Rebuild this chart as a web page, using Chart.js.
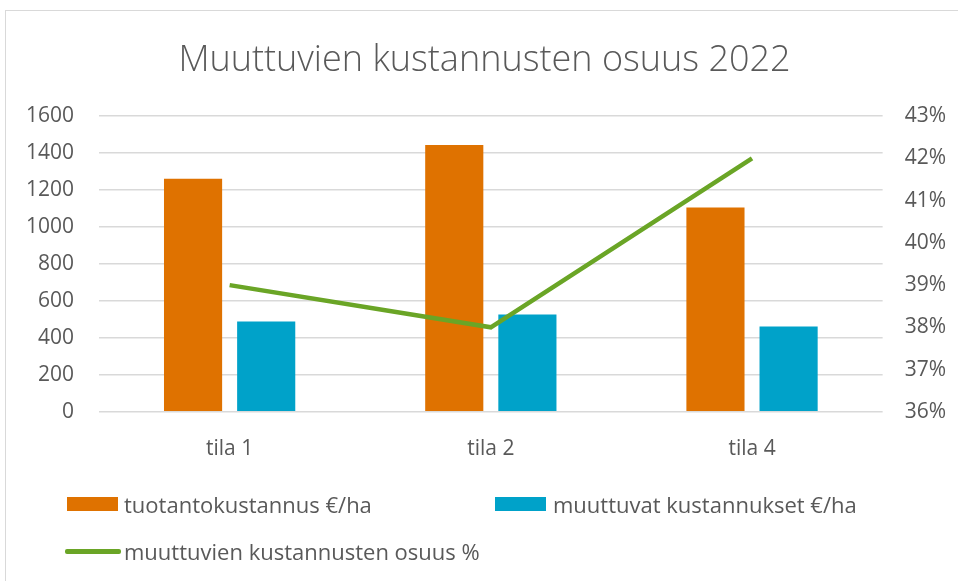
<!DOCTYPE html>
<html lang="fi">
<head>
<meta charset="UTF-8">
<script src="https://cdn.jsdelivr.net/npm/chart.js"></script>
<title>Muuttuvien kustannusten osuus 2022</title>
<style>
    html, body { margin: 0; padding: 0; background: #fff; }
    #wrap { position: relative; width: 958px; height: 581px; overflow: hidden; font-family: "Open Sans", "Noto Sans", sans-serif; }
    #frame { position: absolute; left: 5px; top: 10px; width: 960px; height: 600px; border: 1px solid #d9d9d9; box-sizing: border-box; }
    #chart { position: absolute; left: 0; top: 0; }
    .leg { position: absolute; font-size: 22px; color: #595959; line-height: 28px; white-space: nowrap; }
    .leg i { position: absolute; }
</style>
</head>
<body>
<div id="wrap">
    <div id="frame"></div>
    <canvas id="chart" width="958" height="581"></canvas>
    <div id="legend"></div>
</div>
<script>
    const categories = ['tila 1', 'tila 2', 'tila 4'];
    const productionCost = [1262, 1444, 1106];
    const variableCost = [489, 526, 462];
    const variableShare = [39, 38, 42];
    const leftTicks = [0, 200, 400, 600, 800, 1000, 1200, 1400, 1600];
    const rightTicks = [36, 37, 38, 39, 40, 41, 42, 43];

    const seriesNames = ['tuotantokustannus €/ha', 'muuttuvat kustannukset €/ha', 'muuttuvien kustannusten osuus %'];
    const colors = ['#df7200', '#00a2c9', '#6aa526'];
    const textColor = '#595959';
    const gridColor = '#d9d9d9';
    const tickFont = { family: '"Open Sans", sans-serif', size: 21 };

    const ctx = document.getElementById('chart').getContext('2d');
    new Chart(ctx, {
        data: {
            labels: categories,
            datasets: [
                {
                    type: 'line',
                    label: seriesNames[2],
                    data: variableShare,
                    yAxisID: 'y2',
                    borderColor: colors[2],
                    backgroundColor: colors[2],
                    borderWidth: 4.5,
                    pointRadius: 0,
                    tension: 0,
                    order: 0
                },
                {
                    type: 'bar',
                    label: seriesNames[0],
                    data: productionCost,
                    yAxisID: 'y',
                    backgroundColor: colors[0],
                    barPercentage: 0.795,
                    categoryPercentage: 0.56,
                    order: 1
                },
                {
                    type: 'bar',
                    label: seriesNames[1],
                    data: variableCost,
                    yAxisID: 'y',
                    backgroundColor: colors[1],
                    barPercentage: 0.795,
                    categoryPercentage: 0.56,
                    order: 1
                }
            ]
        },
        options: {
            responsive: false,
            animation: false,
            layout: { padding: { left: 1, right: -10, top: 12, bottom: 102 } },
            plugins: {
                legend: { display: false },
                tooltip: { enabled: false },
                title: {
                    display: true,
                    text: 'Muuttuvien kustannusten osuus 2022',
                    color: textColor,
                    font: { family: '"Open Sans", sans-serif', size: 36, weight: '300' },
                    padding: { top: 27, bottom: 34 }
                }
            },
            scales: {
                x: {
                    grid: { display: false },
                    border: { display: false },
                    ticks: { color: textColor, font: tickFont, padding: 17 }
                },
                y: {
                    position: 'left',
                    min: 0,
                    max: 1600,
                    afterBuildTicks: axis => { axis.ticks = leftTicks.map(v => ({ value: v })); },
                    grid: { color: gridColor, lineWidth: 1.5, drawTicks: false },
                    border: { display: false },
                    ticks: { color: textColor, font: tickFont, padding: 25, callback: v => String(v) }
                },
                y2: {
                    position: 'right',
                    min: 36,
                    max: 43,
                    afterBuildTicks: axis => { axis.ticks = rightTicks.map(v => ({ value: v })); },
                    grid: { display: false, drawTicks: false },
                    border: { display: false },
                    ticks: { color: textColor, font: tickFont, padding: 22, callback: v => v + '%' }
                }
            }
        }
    });

    // legend laid out like the original: two rows
    const legendItems = [
        { text: seriesNames[0], color: colors[0], x: 67, y: 490, textX: 57, kind: 'box' },
        { text: seriesNames[1], color: colors[1], x: 495, y: 490, textX: 58, kind: 'box' },
        { text: seriesNames[2], color: colors[2], x: 65, y: 537, textX: 59, kind: 'line' }
    ];
    const legend = document.getElementById('legend');
    legendItems.forEach(item => {
        const el = document.createElement('div');
        el.className = 'leg';
        el.style.left = item.x + 'px';
        el.style.top = item.y + 'px';
        el.style.paddingLeft = item.textX + 'px';
        const mark = document.createElement('i');
        mark.style.background = item.color;
        mark.style.left = '0px';
        if (item.kind === 'box') {
            mark.style.width = '51px';
            mark.style.height = '14px';
            mark.style.top = '7px';
        } else {
            mark.style.width = '56px';
            mark.style.height = '5px';
            mark.style.top = '12px';
            mark.style.borderRadius = '2px';
        }
        el.appendChild(mark);
        el.appendChild(document.createTextNode(item.text));
        legend.appendChild(el);
    });
</script>
</body>
</html>
